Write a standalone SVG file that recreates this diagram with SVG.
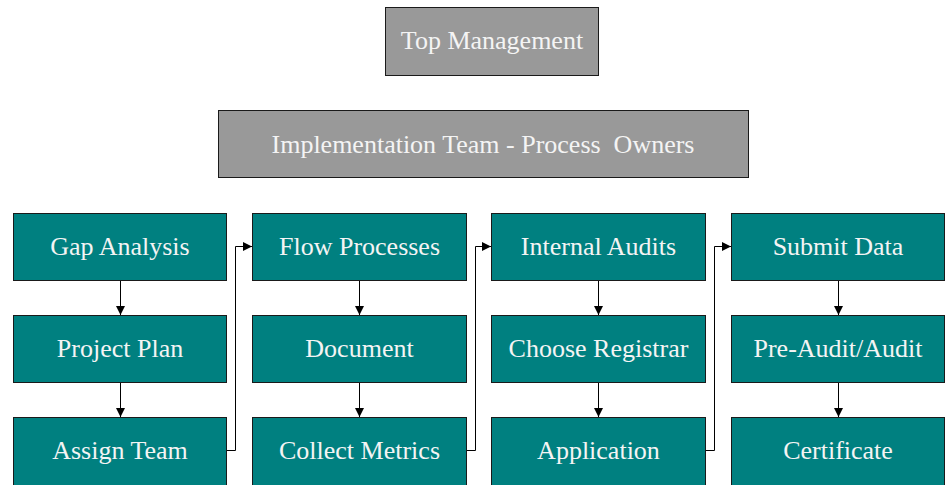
<svg xmlns="http://www.w3.org/2000/svg" width="945" height="485" viewBox="0 0 945 485">
<style>
.g rect{fill:#999999;stroke:#1a1a1a;stroke-width:1}
.t rect{fill:#008080;stroke:#1a1a1a;stroke-width:1}
text{font-family:"Liberation Serif","Times New Roman",serif;font-size:26px;fill:#f4f4f4;text-anchor:middle;white-space:pre}
.c line,.c polyline{fill:none;stroke:#000;stroke-width:1}
</style>
<defs>
<marker id="ah" viewBox="0 0 10 10" refX="10" refY="5" markerWidth="9" markerHeight="9" markerUnits="userSpaceOnUse" orient="auto">
<path d="M0,0 L10,5 L0,10 z" fill="#000"/>
</marker>
</defs>
<rect width="945" height="485" fill="#fff"/>
<g id="top-management" class="g"><rect x="385.5" y="7.5" width="213" height="68"/><text x="492" y="48.5">Top Management</text></g>
<g id="implementation-team" class="g"><rect x="218.5" y="110.5" width="530" height="67"/><text x="483" y="152.5" xml:space="preserve">Implementation Team - Process  Owners</text></g>

<g id="gap-analysis" class="t"><rect x="13.5" y="213.5" width="213" height="67"/><text x="120" y="254.5">Gap Analysis</text></g>
<g id="project-plan" class="t"><rect x="13.5" y="315.5" width="213" height="67"/><text x="120" y="356.5">Project Plan</text></g>
<g id="assign-team" class="t"><rect x="13.5" y="417.5" width="213" height="70"/><text x="120" y="459">Assign Team</text></g>

<g id="flow-processes" class="t"><rect x="252.5" y="213.5" width="214" height="67"/><text x="359.5" y="254.5">Flow Processes</text></g>
<g id="document" class="t"><rect x="252.5" y="315.5" width="214" height="67"/><text x="359.5" y="356.5">Document</text></g>
<g id="collect-metrics" class="t"><rect x="252.5" y="417.5" width="214" height="70"/><text x="359.5" y="459">Collect Metrics</text></g>

<g id="internal-audits" class="t"><rect x="491.5" y="213.5" width="214" height="67"/><text x="598.5" y="254.5">Internal Audits</text></g>
<g id="choose-registrar" class="t"><rect x="491.5" y="315.5" width="214" height="67"/><text x="598.5" y="356.5">Choose Registrar</text></g>
<g id="application" class="t"><rect x="491.5" y="417.5" width="214" height="70"/><text x="598.5" y="459">Application</text></g>

<g id="submit-data" class="t"><rect x="731.5" y="213.5" width="213" height="67"/><text x="838" y="254.5">Submit Data</text></g>
<g id="pre-audit" class="t"><rect x="731.5" y="315.5" width="213" height="67"/><text x="838" y="356.5">Pre-Audit/Audit</text></g>
<g id="certificate" class="t"><rect x="731.5" y="417.5" width="213" height="70"/><text x="838" y="459">Certificate</text></g>

<g id="connectors" class="c">
<line x1="120.5" y1="281" x2="120.5" y2="315" marker-end="url(#ah)"/>
<line x1="120.5" y1="383" x2="120.5" y2="417" marker-end="url(#ah)"/>
<line x1="359.5" y1="281" x2="359.5" y2="315" marker-end="url(#ah)"/>
<line x1="359.5" y1="383" x2="359.5" y2="417" marker-end="url(#ah)"/>
<line x1="598.5" y1="281" x2="598.5" y2="315" marker-end="url(#ah)"/>
<line x1="598.5" y1="383" x2="598.5" y2="417" marker-end="url(#ah)"/>
<line x1="838.5" y1="281" x2="838.5" y2="315" marker-end="url(#ah)"/>
<line x1="838.5" y1="383" x2="838.5" y2="417" marker-end="url(#ah)"/>
<polyline points="227,450.5 235.5,450.5 235.5,246.5 252,246.5" marker-end="url(#ah)"/>
<polyline points="467,450.5 475.5,450.5 475.5,246.5 491,246.5" marker-end="url(#ah)"/>
<polyline points="706,450.5 714.5,450.5 714.5,246.5 731,246.5" marker-end="url(#ah)"/>
</g>
</svg>
